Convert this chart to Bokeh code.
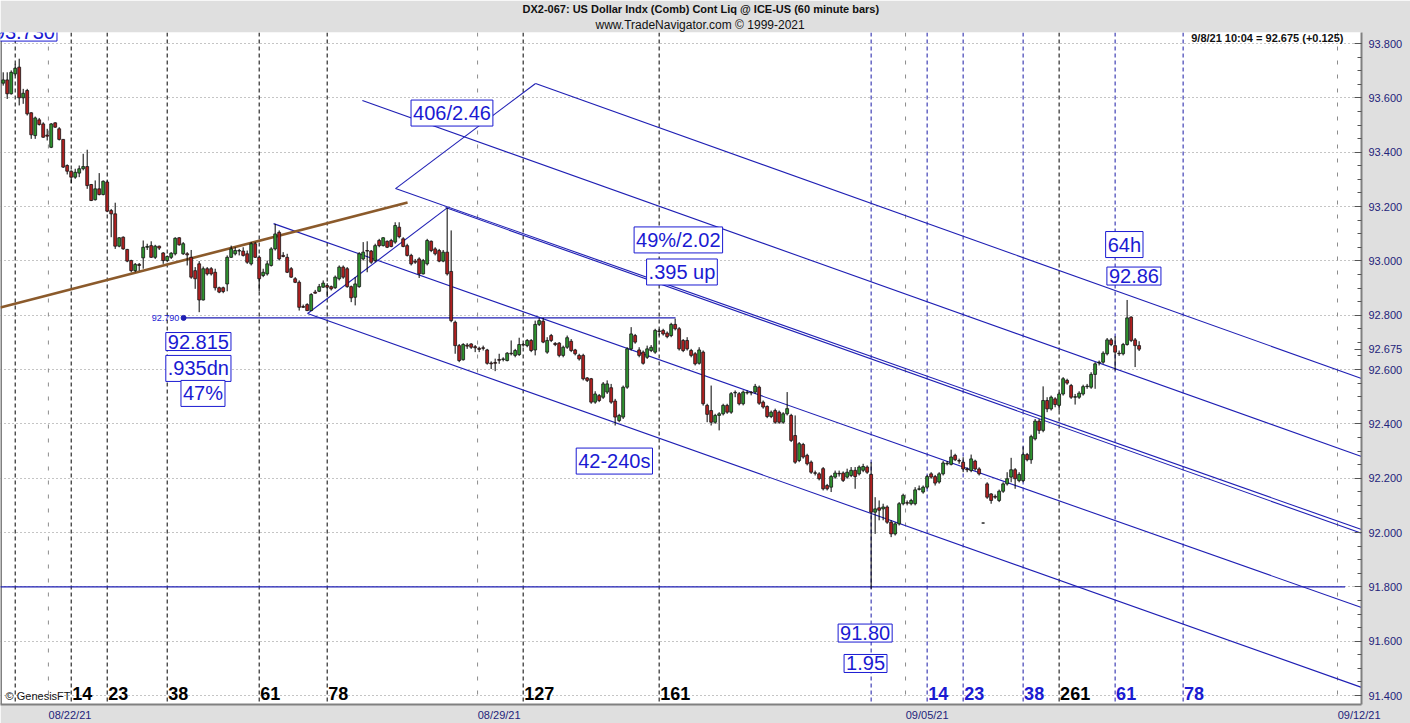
import numpy as np
from bokeh.plotting import figure
from bokeh.models import (ColumnDataSource, Range1d, FixedTicker, Span, Label, Title,
                          NumeralTickFormatter, CustomJSTickFormatter)
from bokeh.core.properties import value
from bokeh.embed import file_html
from bokeh.resources import INLINE

# ---------------- data (60 minute bars, bar index = position) ----------------
bar_open = [93.654,93.666,93.615,93.688,93.713,93.600,93.627,93.545,93.461,93.519,
93.504,93.463,93.418,93.508,93.486,93.447,93.351,93.330,93.308,93.323,
93.339,93.347,93.281,93.225,93.265,93.244,93.290,93.185,93.173,93.054,
93.087,93.042,93.001,92.964,92.987,93.011,93.050,93.056,93.013,93.054,
93.029,93.001,93.013,93.026,93.085,93.026,93.026,93.013,92.964,92.989,
92.856,92.971,92.971,92.958,92.901,92.901,92.915,93.013,93.026,93.036,
93.036,93.026,92.989,93.063,93.013,92.946,92.952,92.983,93.044,93.105,
93.020,93.013,92.971,92.934,92.921,92.832,92.839,92.817,92.885,92.888,
92.903,92.909,92.905,92.901,92.934,92.977,92.971,92.905,92.866,92.905,
93.007,93.038,93.036,93.001,93.075,93.056,93.072,93.075,93.069,93.124,
93.081,93.056,93.020,92.999,93.007,92.952,92.989,93.072,93.044,93.038,
92.999,93.032,92.961,92.774,92.688,92.636,92.690,92.694,92.684,92.678,
92.680,92.672,92.624,92.626,92.637,92.637,92.633,92.660,92.652,92.655,
92.692,92.688,92.707,92.672,92.766,92.778,92.664,92.725,92.696,92.697,
92.652,92.682,92.704,92.672,92.652,92.652,92.569,92.566,92.480,92.504,
92.498,92.517,92.533,92.484,92.412,92.425,92.535,92.676,92.725,92.672,
92.664,92.645,92.670,92.664,92.742,92.744,92.734,92.725,92.766,92.750,
92.707,92.707,92.670,92.658,92.623,92.664,92.468,92.449,92.406,92.431,
92.437,92.468,92.443,92.514,92.511,92.474,92.514,92.516,92.517,92.535,
92.480,92.464,92.427,92.449,92.443,92.406,92.437,92.431,92.357,92.265,
92.324,92.284,92.259,92.220,92.216,92.235,92.173,92.167,92.204,92.218,
92.219,92.204,92.210,92.229,92.216,92.229,92.241,92.214,92.075,92.091,
92.087,92.094,92.038,91.995,92.032,92.106,92.110,92.106,92.106,92.159,
92.149,92.167,92.216,92.206,92.186,92.216,92.253,92.251,92.284,92.265,
92.259,92.234,92.228,92.263,92.234,92.035,92.179,92.142,92.133,92.118,
92.152,92.179,92.204,92.231,92.191,92.191,92.287,92.268,92.345,92.410,
92.376,92.486,92.455,92.492,92.468,92.510,92.560,92.541,92.498,92.498,
92.510,92.537,92.535,92.582,92.625,92.627,92.658,92.709,92.688,92.660,
92.658,92.692,92.793,92.709,92.688]
bar_high = [93.694,93.694,93.701,93.725,93.744,93.633,93.633,93.547,93.531,93.526,
93.510,93.486,93.507,93.510,93.492,93.448,93.355,93.333,93.339,93.351,
93.394,93.409,93.283,93.296,93.323,93.296,93.296,93.191,93.214,93.087,
93.090,93.044,93.004,92.992,92.992,93.075,93.063,93.072,93.059,93.056,
93.032,93.020,93.032,93.087,93.087,93.069,93.032,93.040,92.977,92.999,
92.979,92.977,92.977,92.971,92.905,92.905,93.020,93.056,93.050,93.044,
93.050,93.038,93.069,93.069,93.020,92.971,93.001,93.050,93.136,93.112,
93.032,93.026,92.977,92.940,92.928,92.839,92.844,92.881,92.893,92.915,
92.928,92.918,92.909,92.946,92.983,92.983,92.977,92.909,92.940,93.032,
93.069,93.072,93.040,93.063,93.081,93.087,93.075,93.081,93.142,93.142,
93.087,93.063,93.026,93.007,93.013,93.007,93.081,93.075,93.050,93.044,
93.040,93.195,93.112,92.780,92.694,92.697,92.697,92.697,92.690,92.684,
92.688,92.676,92.630,92.640,92.658,92.645,92.664,92.707,92.676,92.717,
92.697,92.712,92.712,92.780,92.790,92.790,92.719,92.731,92.701,92.701,
92.688,92.725,92.712,92.676,92.658,92.658,92.572,92.569,92.520,92.510,
92.554,92.560,92.547,92.492,92.437,92.541,92.682,92.756,92.731,92.682,
92.670,92.688,92.690,92.750,92.750,92.750,92.740,92.772,92.787,92.756,
92.712,92.719,92.676,92.664,92.682,92.670,92.474,92.541,92.437,92.443,
92.474,92.474,92.517,92.523,92.517,92.523,92.523,92.520,92.547,92.541,
92.486,92.468,92.449,92.456,92.449,92.443,92.517,92.437,92.431,92.333,
92.330,92.290,92.265,92.228,92.222,92.241,92.179,92.212,92.228,92.228,
92.225,92.235,92.241,92.241,92.247,92.253,92.247,92.259,92.130,92.118,
92.106,92.100,92.045,92.038,92.112,92.143,92.118,92.124,92.167,92.173,
92.173,92.212,92.222,92.212,92.222,92.263,92.263,92.305,92.290,92.272,
92.277,92.240,92.287,92.268,92.240,92.036,92.185,92.145,92.140,92.158,
92.185,92.222,92.275,92.237,92.222,92.317,92.293,92.360,92.418,92.418,
92.538,92.498,92.504,92.498,92.516,92.572,92.566,92.547,92.510,92.520,
92.544,92.547,92.590,92.627,92.633,92.667,92.716,92.716,92.722,92.670,
92.698,92.856,92.796,92.716,92.704]
bar_low = [93.645,93.596,93.612,93.682,93.572,93.578,93.535,93.449,93.449,93.498,
93.453,93.443,93.415,93.490,93.443,93.342,93.318,93.286,93.302,93.308,
93.333,93.265,93.220,93.222,93.241,93.241,93.179,93.087,93.044,93.050,
93.041,92.995,92.958,92.958,92.964,92.971,93.040,93.011,93.007,93.040,
92.989,92.995,93.007,93.020,93.056,93.022,92.983,92.934,92.897,92.811,
92.854,92.946,92.946,92.891,92.881,92.881,92.888,93.011,93.020,93.020,
93.016,92.989,92.983,93.011,92.888,92.940,92.946,92.979,93.038,93.001,
93.013,92.955,92.937,92.918,92.817,92.827,92.815,92.815,92.879,92.885,
92.901,92.866,92.891,92.897,92.928,92.934,92.901,92.848,92.836,92.901,
93.001,92.958,92.989,92.995,93.050,93.053,93.047,93.050,93.063,93.083,
93.050,93.016,92.983,92.989,92.937,92.950,92.983,93.032,93.020,92.995,
92.995,92.946,92.774,92.658,92.627,92.633,92.676,92.676,92.664,92.664,
92.670,92.618,92.602,92.594,92.621,92.630,92.630,92.652,92.645,92.650,
92.684,92.682,92.664,92.652,92.760,92.697,92.658,92.701,92.686,92.645,
92.645,92.676,92.664,92.652,92.633,92.560,92.554,92.474,92.474,92.480,
92.492,92.510,92.474,92.394,92.406,92.418,92.529,92.670,92.695,92.645,
92.618,92.639,92.664,92.658,92.725,92.725,92.715,92.719,92.744,92.670,
92.664,92.670,92.645,92.615,92.618,92.467,92.406,92.394,92.400,92.376,
92.431,92.437,92.437,92.498,92.468,92.468,92.508,92.505,92.511,92.470,
92.456,92.421,92.421,92.400,92.400,92.400,92.431,92.333,92.253,92.259,
92.272,92.247,92.216,92.210,92.192,92.155,92.155,92.149,92.198,92.206,
92.186,92.198,92.204,92.161,92.210,92.222,92.216,91.793,91.995,92.045,
92.045,92.032,91.983,91.989,92.026,92.100,92.100,92.100,92.100,92.155,
92.143,92.161,92.198,92.173,92.180,92.210,92.247,92.247,92.263,92.253,
92.222,92.222,92.222,92.228,92.210,92.034,92.124,92.106,92.124,92.112,
92.146,92.173,92.185,92.161,92.185,92.185,92.262,92.253,92.339,92.363,
92.369,92.443,92.449,92.461,92.449,92.504,92.544,92.492,92.471,92.492,
92.504,92.529,92.529,92.529,92.615,92.621,92.652,92.686,92.596,92.650,
92.652,92.688,92.701,92.609,92.668]
bar_close = [93.666,93.615,93.694,93.709,93.600,93.617,93.541,93.464,93.526,93.502,
93.455,93.459,93.504,93.492,93.447,93.345,93.330,93.308,93.326,93.339,
93.347,93.277,93.222,93.265,93.244,93.293,93.183,93.173,93.054,93.085,
93.044,92.999,92.964,92.987,92.983,93.050,93.053,93.013,93.054,93.047,
93.001,93.016,93.028,93.083,93.059,93.063,93.022,92.940,92.934,92.856,
92.971,92.952,92.952,92.901,92.885,92.887,93.013,93.044,93.038,93.038,
93.020,92.995,93.063,93.013,92.934,92.958,92.989,93.044,93.099,93.007,
93.016,92.958,92.940,92.921,92.829,92.829,92.817,92.876,92.881,92.905,
92.918,92.903,92.897,92.940,92.977,92.940,92.905,92.864,92.915,93.026,
93.032,93.036,92.995,93.056,93.056,93.085,93.050,93.053,93.130,93.089,
93.053,93.020,92.989,92.995,92.952,93.001,93.075,93.038,93.026,92.999,
93.032,92.952,92.780,92.688,92.633,92.692,92.686,92.682,92.680,92.674,
92.678,92.623,92.621,92.623,92.634,92.639,92.660,92.658,92.670,92.692,
92.690,92.707,92.670,92.766,92.780,92.701,92.707,92.707,92.692,92.652,
92.682,92.717,92.670,92.658,92.639,92.566,92.560,92.480,92.510,92.486,
92.547,92.547,92.480,92.425,92.431,92.535,92.676,92.731,92.701,92.652,
92.623,92.676,92.682,92.744,92.740,92.731,92.721,92.766,92.750,92.676,
92.670,92.676,92.652,92.621,92.672,92.474,92.435,92.406,92.431,92.437,
92.468,92.443,92.511,92.516,92.474,92.517,92.516,92.514,92.538,92.476,
92.462,92.427,92.443,92.406,92.406,92.437,92.456,92.339,92.259,92.327,
92.278,92.253,92.222,92.218,92.198,92.161,92.161,92.206,92.219,92.216,
92.192,92.222,92.229,92.206,92.241,92.243,92.222,92.075,92.087,92.082,
92.094,92.038,91.995,92.032,92.106,92.137,92.108,92.118,92.157,92.161,
92.167,92.206,92.204,92.182,92.216,92.256,92.255,92.278,92.268,92.263,
92.234,92.231,92.271,92.234,92.216,92.035,92.130,92.118,92.130,92.152,
92.179,92.198,92.231,92.198,92.214,92.287,92.268,92.353,92.410,92.376,
92.486,92.455,92.498,92.471,92.510,92.566,92.550,92.498,92.500,92.513,
92.537,92.539,92.582,92.621,92.627,92.660,92.709,92.692,92.664,92.658,
92.692,92.790,92.707,92.688,92.675]

price_ticks = [91.4, 91.6, 91.8, 92.0, 92.2, 92.4, 92.6, 92.8, 93.0, 93.2, 93.4, 93.6, 93.8]
last_price = 92.675
date_bars = [11.3, 118.6, 225.6, 333.6]
date_labels = ["08/22/21", "08/29/21", "09/05/21", "09/12/21"]

black_origin = 3
black_counts = [14, 23, 38, 61, 78, 127, 161, 261]
blue_origin = 217
blue_counts = [14, 23, 38, 61, 78]

# parallel channel / pitchfork lines (bar, price)
chan_x0 = [133.1, 89.8, 98.1, 110.6, 67.6, 76.1, 98.1, 76.1]
chan_y0 = [93.653, 93.590, 93.266, 93.196, 93.137, 92.806, 93.266, 92.806]
chan_x1 = [339.6, 339.6, 339.6, 339.6, 339.6, 339.6, 133.1, 111.1]
chan_y1 = [92.567, 92.280, 92.011, 91.997, 91.724, 91.430, 93.653, 93.196]

brown_x = [-0.7, 101.1]
brown_y = [92.828, 93.215]

level_a = 92.790
level_a_bars = [45.1, 168.1]
level_b = 91.80
level_b_bars = [-0.7, 335.5]

note_bar = [112.2, 168.8, 169.7, 280.3, 282.7, 48.8, 48.8, 49.95, 152.8, 215.5, 215.6, 5.3]
note_price = [93.544, 93.077, 92.959, 93.060, 92.944, 92.703, 92.604, 92.512, 92.263, 91.630, 91.518, 93.842]
note_text = ["406/2.46", "49%/2.02", ".395 up", "64h", "92.86", "92.815", ".935dn", "47%",
             "42-240s", "91.80", "1.95", "93.730"]

header_1 = "DX2-067:  US Dollar Indx (Comb) Cont Liq @ ICE-US  (60 minute bars)"
header_2 = "www.TradeNavigator.com \u00a9 1999-2021"
status_text = "9/8/21 10:04 = 92.675 (+0.125)"

# ---------------- styling ----------------
FONT = "Liberation Sans"
GREEN = "#2f932f"
RED = "#b02020"
LINE_BLUE = "#1f1fb4"
TXT_BLUE = "#1a1ad2"
DASH_BLUE = "#1a1aa6"
GRAY_BG = "#dfdfdf"

p = figure(width=1410, height=723, output_backend="svg", toolbar_location=None,
           x_range=Range1d(-0.675, 339.6), y_range=Range1d(91.367, 93.8405),
           y_axis_location="right", min_border_left=0, min_border_right=49,
           min_border_top=32, min_border_bottom=19)
p.border_fill_color = GRAY_BG
p.background_fill_color = "white"
p.outline_line_color = None
p.xgrid.visible = False

# header lines (later-added titles sit nearer the frame)
p.title.text = header_1
p.title.align = "left"
p.title.offset = 522
p.title.standoff = 1
p.title.text_font = FONT
p.title.text_font_size = "11px"
p.title.text_font_style = "bold"
p.title.text_color = "#111111"
p.add_layout(Title(text=header_2, align="left", offset=595, standoff=1, text_font=FONT,
                   text_font_size="12px", text_font_style="normal", text_color="#111111"), "above")

minor = list(np.round(np.arange(91.35, 93.86, 0.05), 2))
p.yaxis.ticker = FixedTicker(ticks=price_ticks + [last_price], minor_ticks=minor)
p.ygrid.ticker = FixedTicker(ticks=price_ticks, minor_ticks=[])
p.yaxis.formatter = NumeralTickFormatter(format="0.000")
p.yaxis.axis_line_color = "#808080"
p.yaxis.axis_line_width = 2
p.yaxis.major_tick_in = 7
p.yaxis.major_tick_out = 0
p.yaxis.minor_tick_in = 4
p.yaxis.minor_tick_out = 0
p.yaxis.major_tick_line_color = "#555555"
p.yaxis.minor_tick_line_color = "#555555"
p.yaxis.major_label_text_color = "#23237a"
p.yaxis.major_label_text_font = FONT
p.yaxis.major_label_text_font_size = "11px"
p.yaxis.major_label_standoff = 7
p.ygrid.grid_line_color = "#8a8a8a"
p.ygrid.grid_line_dash = "1 3"

label_shift = 5.4
xt = [b + label_shift for b in date_bars]
p.xaxis.ticker = FixedTicker(ticks=xt, minor_ticks=[])
p.xaxis.formatter = CustomJSTickFormatter(args=dict(labels=date_labels, pos=xt), code="""
let i = 0, best = 1e9;
for (let k = 0; k < pos.length; k++) { const d = Math.abs(pos[k] - tick); if (d < best) { best = d; i = k; } }
return labels[i];
""")
p.xaxis.axis_line_color = "#808080"
p.xaxis.axis_line_width = 2
p.xaxis.major_tick_line_color = None
p.xaxis.minor_tick_line_color = None
p.xaxis.major_tick_out = 0
p.xaxis.major_label_standoff = 4
p.xaxis.major_label_text_color = "#23237a"
p.xaxis.major_label_text_font = FONT
p.xaxis.major_label_text_font_size = "11px"

# vertical lines
p.add_layout(Span(location=-0.55, dimension="height", line_color="#808080",
                  line_width=2, level="underlay"))
for b in date_bars:
    p.add_layout(Span(location=b, dimension="height", line_color="#8c8c8c",
                      line_dash="4 10", line_width=1, level="underlay"))
for b in [black_origin] + [black_origin + c for c in black_counts]:
    p.add_layout(Span(location=b, dimension="height", line_color="black",
                      line_dash="4 3", line_width=1, level="underlay"))
for b in [blue_origin] + [blue_origin + c for c in blue_counts]:
    p.add_layout(Span(location=b, dimension="height", line_color=DASH_BLUE,
                      line_dash="4 3", line_width=1, level="underlay"))

# horizontal levels
p.line(x=level_a_bars, y=[level_a, level_a], line_color=LINE_BLUE, line_width=1.2)
p.scatter(x=[level_a_bars[0]], y=[level_a], size=5, color=LINE_BLUE)
p.line(x=level_b_bars, y=[level_b, level_b], line_color=LINE_BLUE, line_width=1.2)

# channel lines
p.segment(x0=chan_x0, y0=chan_y0, x1=chan_x1, y1=chan_y1, line_color=LINE_BLUE, line_width=1.1)
p.line(x=brown_x, y=brown_y, line_color="#8b5a2b", line_width=2.6)

# candles
idx = list(range(len(bar_close)))
src = ColumnDataSource(dict(
    x=idx, h=bar_high, l=bar_low,
    top=[max(o, c) for o, c in zip(bar_open, bar_close)],
    bottom=[min(o, c) for o, c in zip(bar_open, bar_close)],
    color=[GREEN if c >= o else RED for o, c in zip(bar_open, bar_close)]))
p.segment(x0="x", y0="l", x1="x", y1="h", source=src, line_color="black", line_width=1)
p.vbar(x="x", width=0.72, top="top", bottom="bottom", fill_color="color",
       line_color="#151515", line_width=0.8, source=src)

# boxed notes
p.text(x=note_bar, y=note_price, text=note_text, text_font=value(FONT),
       text_font_size="20px", text_color=TXT_BLUE, text_align="center",
       text_baseline="middle", background_fill_color="white",
       border_line_color=TXT_BLUE, border_line_width=1, padding=2)

# cycle counts
cyc_x = [black_origin + c for c in black_counts] + [blue_origin + c for c in blue_counts]
cyc_t = [str(c) for c in black_counts] + [str(c) for c in blue_counts]
cyc_c = ["black"] * len(black_counts) + [TXT_BLUE] * len(blue_counts)
p.text(x=cyc_x, y=[91.4075] * len(cyc_x), text=cyc_t, text_color=cyc_c,
       text_font=value(FONT), text_font_size="18px", text_font_style="bold",
       text_align="left", text_baseline="middle", x_offset=1)

p.add_layout(Label(x=44.0, y=level_a, text="92.790", text_font=FONT, text_font_size="9px",
                   text_color=TXT_BLUE, text_align="right", text_baseline="middle"))
p.add_layout(Label(x=0.6, y=91.400, text="\u00a9 GenesisFT", text_font=FONT, text_font_size="11px",
                   text_color="#111111", text_align="left", text_baseline="middle"))
p.add_layout(Label(x=335.1, y=93.822, text=status_text, text_font=FONT, text_font_size="11px",
                   text_font_style="bold", text_color="#111111", text_align="right",
                   text_baseline="middle"))

open("out.html", "w").write(file_html(p, INLINE))
